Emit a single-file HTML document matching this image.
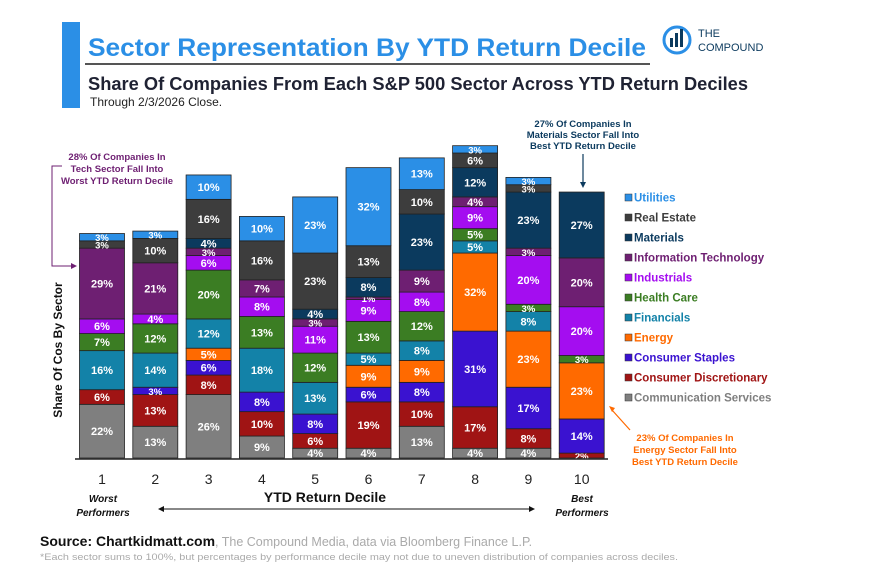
<!DOCTYPE html>
<html><head><meta charset="utf-8"><style>
body{margin:0;background:#fff;}
svg{display:block;font-family:"Liberation Sans",sans-serif;}
</style></head><body>
<svg id="c" width="886" height="578" viewBox="0 0 886 578">
<rect x="62" y="22" width="18" height="86" fill="#2b8fe6"/>
<text x="88" y="56" font-size="25" font-weight="bold" fill="#2b8fe6" textLength="558" lengthAdjust="spacingAndGlyphs">Sector Representation By YTD Return Decile</text>
<line x1="85" y1="64" x2="650" y2="64" stroke="#555" stroke-width="2"/>
<text x="88" y="90" font-size="18" font-weight="bold" fill="#1f2233" textLength="660" lengthAdjust="spacingAndGlyphs">Share Of Companies From Each S&amp;P 500 Sector Across YTD Return Deciles</text>
<text x="90" y="106" font-size="12" fill="#222">Through 2/3/2026 Close.</text>
<g>
<circle cx="677" cy="40" r="13" fill="none" stroke="#2b8fe6" stroke-width="3"/>
<rect x="670" y="38" width="3" height="9" fill="#0b3a5e"/><rect x="675" y="33" width="3" height="14" fill="#0b3a5e"/><rect x="680" y="29" width="3" height="18" fill="#0b3a5e"/>
<text x="698" y="37" font-size="11" fill="#0b3a5e">THE</text>
<text x="698" y="51" font-size="11" fill="#0b3a5e">COMPOUND</text>
</g>
<g id="bars"></g>
<line x1="75" y1="459" x2="608" y2="459" stroke="#222" stroke-width="1.5"/>
<g id="xt"></g>
<text transform="translate(62,350) rotate(-90)" text-anchor="middle" font-size="12" font-weight="bold" fill="#111">Share Of Cos By Sector</text>
<text x="325" y="502" text-anchor="middle" font-size="14" font-weight="bold" fill="#111">YTD Return Decile</text>
<line x1="160" y1="509" x2="533" y2="509" stroke="#111" stroke-width="1"/>
<path d="M158 509 l6 -3 v6z M535 509 l-6 -3 v6z" fill="#111"/>
<text x="103" y="502" text-anchor="middle" font-size="10" font-weight="bold" font-style="italic" fill="#111">Worst</text>
<text x="103" y="516" text-anchor="middle" font-size="10" font-weight="bold" font-style="italic" fill="#111">Performers</text>
<text x="582" y="502" text-anchor="middle" font-size="10" font-weight="bold" font-style="italic" fill="#111">Best</text>
<text x="582" y="516" text-anchor="middle" font-size="10" font-weight="bold" font-style="italic" fill="#111">Performers</text>
<g font-size="9.5" font-weight="bold" fill="#6e1f72" text-anchor="middle">
<text x="117" y="160">28% Of Companies In</text><text x="117" y="172">Tech Sector Fall Into</text><text x="117" y="184">Worst YTD Return Decile</text>
</g>
<path d="M62 166 H52 V266 H72" fill="none" stroke="#6e1f72" stroke-width="1"/><path d="M77 266 l-6 -3 v6z" fill="#6e1f72"/>
<g font-size="9.5" font-weight="bold" fill="#0b3a5e" text-anchor="middle">
<text x="583" y="127">27% Of Companies In</text><text x="583" y="138">Materials  Sector Fall Into</text><text x="583" y="149">Best YTD Return Decile</text>
</g>
<line x1="583" y1="154" x2="583" y2="183" stroke="#0b3a5e" stroke-width="1.2"/><path d="M583 188 l-3 -6 h6z" fill="#0b3a5e"/>
<g font-size="9.5" font-weight="bold" fill="#ff6a00" text-anchor="middle">
<text x="685" y="441">23% Of Companies In</text><text x="685" y="453">Energy Sector Fall Into</text><text x="685" y="465">Best YTD Return Decile</text>
</g>
<line x1="630" y1="430" x2="612" y2="410" stroke="#ff6a00" stroke-width="1.2"/><path d="M609 406 l6 2 l-3 4z" fill="#ff6a00"/>
<g id="legend"></g>
<text x="40" y="546" font-size="14" font-weight="bold" fill="#111">Source: Chartkidmatt.com<tspan font-weight="normal" font-size="12.5" fill="#aaa">, The Compound Media, data via Bloomberg Finance L.P.</tspan></text>
<text x="40" y="560" font-size="9.5" fill="#aaa" textLength="638" lengthAdjust="spacingAndGlyphs">*Each sector sums to 100%, but percentages by performance decile may not due to uneven distribution of companies across deciles.</text>
</svg>
<script>
const deciles=["1","2","3","4","5","6","7","8","9","10"];
const sectors=["Communication Services","Consumer Discretionary","Consumer Staples","Energy","Financials","Health Care","Industrials","Information Technology","Materials","Real Estate","Utilities"];
const commServices=[22,13,26,9,4,4,13,4,4,0];
const consDisc=[6,13,8,10,6,19,10,17,8,2];
const consStaples=[0,3,6,8,8,6,8,31,17,14];
const energy=[0,0,5,0,0,9,9,32,23,23];
const financials=[16,14,12,18,13,5,8,5,8,0];
const healthCare=[7,12,20,13,12,13,12,5,3,3];
const industrials=[6,4,6,8,11,9,8,9,20,20];
const infoTech=[29,21,3,7,3,1,9,4,3,20];
const materials=[0,0,4,0,4,8,23,12,23,27];
const realEstate=[3,10,16,16,23,13,10,6,3,0];
const utilities=[3,3,10,10,23,32,13,3,3,0];
const series=[commServices,consDisc,consStaples,energy,financials,healthCare,industrials,infoTech,materials,realEstate,utilities];
const colors=["#7f7f7f","#a01414","#3a12d0","#ff6a00","#1382a8","#3b7d23","#a40df0","#6e1f72","#0b3a5e","#3d3d3d","#2b8fe6"];
const NS="http://www.w3.org/2000/svg";
const x0=102,step=53.3,bw=45,base=458,ppu=2.44;
const xs=i=>x0+i*step;
const ys=v=>base-v*ppu;
function mk(t,a){const e=document.createElementNS(NS,t);for(const k in a)e.setAttribute(k,a[k]);return e;}
const g=document.getElementById('bars');
deciles.forEach((d,i)=>{
  let cum=0;
  series.forEach((s,j)=>{
    const v=s[i];if(!v)return;
    const y1=ys(cum),y2=ys(cum+v);cum+=v;
    const r=mk('rect',{x:xs(i)-bw/2,y:y2,width:bw,height:y1-y2,fill:colors[j],stroke:'#222','stroke-width':0.8});
    
    
    g.appendChild(r);
    const t=mk('text',{x:xs(i),y:(y1+y2)/2+4,'text-anchor':'middle','font-size':v<4?9.5:11,'font-weight':'bold',fill:'#fff'});
    t.textContent=v+'%';
    
    
    g.appendChild(t);
  });
  const tk=mk('text',{x:xs(i),y:484,'text-anchor':'middle','font-size':14,fill:'#222'});
  tk.textContent=d;
  
  
  document.getElementById('xt').appendChild(tk);
});
const lg=document.getElementById('legend');
for(let k=sectors.length-1,n=0;k>=0;k--,n++){
  const y=199+n*20;
  const sq=mk('rect',{x:625,y:y-5,width:7,height:7,fill:colors[k],stroke:'#333','stroke-width':0.5});
  
  
  lg.appendChild(sq);
  const t=mk('text',{x:634,y:y+2.5,'font-size':11.5,'font-weight':'bold',fill:colors[k]});
  t.textContent=sectors[k];
  
  
  lg.appendChild(t);
}
</script>
</body></html>
